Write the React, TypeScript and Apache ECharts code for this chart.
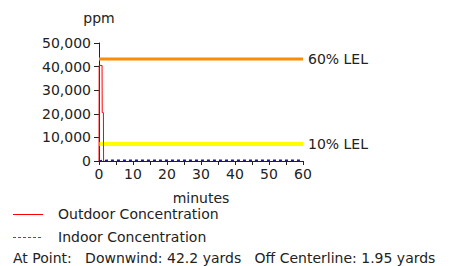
import React, { useEffect, useRef } from "react";
import * as echarts from "echarts";

const outdoorTimes = [0, 0.05, 0.9, 0.95, 1.3, 1.35];
const outdoorPpm = [0, 40500, 40500, 20500, 20500, 0];
const indoorTimes = [0, 1, 5, 10, 20, 30, 40, 50, 60];
const indoorPpm = [0, 250, 300, 300, 300, 300, 300, 300, 300];
const lel60 = 43200;
const lel10 = 7200;
const xMax = 60;
const yTicks = [0, 10000, 20000, 30000, 40000, 50000];
const legendNames = ["Outdoor Concentration", "Indoor Concentration"];
const footerText = "At Point:   Downwind: 42.2 yards   Off Centerline: 1.95 yards";

const FONT = "DejaVu Sans";

export default function App() {
  const ref = useRef<HTMLDivElement>(null);
  useEffect(() => {
    if (!ref.current) return;
    const chart = echarts.init(ref.current, null, { renderer: "svg" });
    chart.setOption({
      animation: false,
      textStyle: { fontFamily: FONT, fontSize: 14, color: "#222" },
      grid: { left: 99, right: 147, top: 43, bottom: 105 },
      xAxis: {
        type: "value",
        min: 0,
        max: xMax,
        interval: 5,
        name: "minutes",
        nameLocation: "middle",
        nameGap: 30,
        nameTextStyle: { fontFamily: FONT, fontSize: 14, color: "#222", lineHeight: 14 },
        axisLine: { lineStyle: { color: "#222" } },
        axisTick: { length: 4, lineStyle: { color: "#222" } },
        splitLine: { show: false },
        axisLabel: {
          fontFamily: FONT,
          fontSize: 14,
          color: "#222",
          margin: 6,
          formatter: (v: number) => (v % 10 === 0 ? String(v) : ""),
        },
      },
      yAxis: {
        type: "value",
        min: 0,
        max: yTicks[yTicks.length - 1],
        interval: 10000,
        name: "ppm",
        nameGap: 18,
        nameTextStyle: { fontFamily: FONT, fontSize: 14, color: "#222", align: "center" },
        axisLine: { show: true, lineStyle: { color: "#222" } },
        axisTick: { show: true, length: 5, lineStyle: { color: "#222" } },
        splitLine: { show: false },
        axisLabel: {
          fontFamily: FONT,
          fontSize: 14,
          color: "#222",
          margin: 8,
          formatter: (v: number) => v.toLocaleString("en-US"),
        },
      },
      series: [
        {
          name: "60% LEL",
          type: "line",
          symbol: "none",
          data: [[0, lel60], [xMax, lel60]],
          lineStyle: { color: "#ff8c00", width: 3 },
          itemStyle: { color: "#ff8c00" },
          endLabel: {
            show: true,
            formatter: "60% LEL",
            fontFamily: FONT,
            fontSize: 14,
            color: "#222",
            distance: 5,
          },
          z: 2,
        },
        {
          name: "10% LEL",
          type: "line",
          symbol: "none",
          data: [[0, lel10], [xMax, lel10]],
          lineStyle: { color: "#ffff00", width: 4 },
          itemStyle: { color: "#ffff00" },
          endLabel: {
            show: true,
            formatter: "10% LEL",
            fontFamily: FONT,
            fontSize: 14,
            color: "#222",
            distance: 5,
          },
          z: 2,
        },
        {
          name: legendNames[0],
          type: "line",
          symbol: "none",
          data: outdoorTimes.map((t, i) => [t, outdoorPpm[i]]),
          lineStyle: { color: "#ff0000", width: 1 },
          itemStyle: { color: "#ff0000" },
          z: 3,
        },
        {
          name: legendNames[1],
          type: "line",
          symbol: "none",
          data: indoorTimes.map((t, i) => [t, indoorPpm[i]]),
          lineStyle: { color: "#1a1a99", width: 1.5, type: [3, 3] },
          itemStyle: { color: "#3333ff" },
          z: 4,
        },
      ],
      graphic: [
        {
          type: "line",
          shape: { x1: 13, y1: 214.5, x2: 43, y2: 214.5 },
          style: { stroke: "#ff0000", lineWidth: 1 },
        },
        {
          type: "text",
          left: 58,
          top: 207,
          style: { text: legendNames[0], fontFamily: FONT, fontSize: 14, lineHeight: 14, fill: "#222" },
        },
        {
          type: "line",
          shape: { x1: 13, y1: 237.5, x2: 43, y2: 237.5 },
          style: { stroke: "#4444ff", lineWidth: 1, lineDash: [3, 2] },
        },
        {
          type: "text",
          left: 58,
          top: 230,
          style: { text: legendNames[1], fontFamily: FONT, fontSize: 14, lineHeight: 14, fill: "#222" },
        },
        {
          type: "text",
          left: 13,
          top: 251,
          style: { text: footerText, fontFamily: FONT, fontSize: 14, lineHeight: 14, fill: "#222" },
        },
      ],
    });
    return () => chart.dispose();
  }, []);
  return <div ref={ref} style={{ width: 450, height: 266, position: "absolute", left: 0, top: 0 }} />;
}
